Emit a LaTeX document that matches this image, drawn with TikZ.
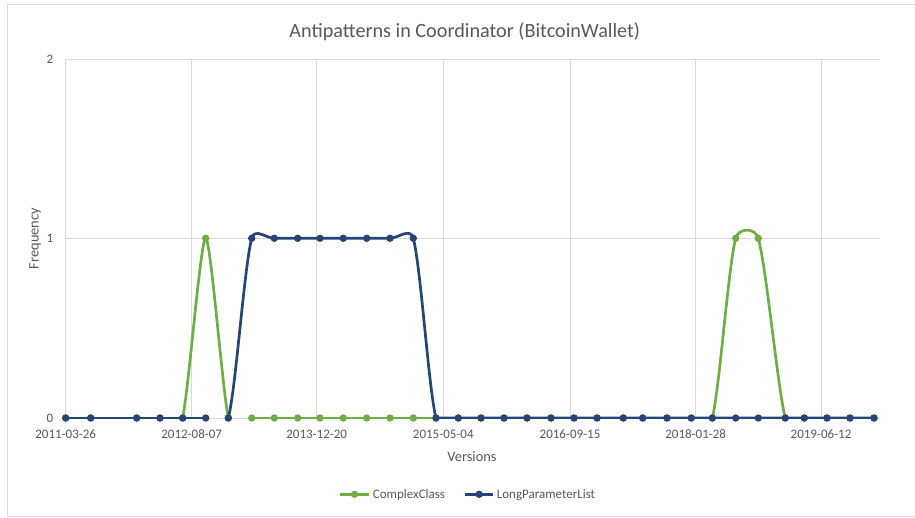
\documentclass[tikz,border=0pt]{standalone}
\usepackage{fontspec}
\usetikzlibrary{calc}
\setmainfont{Carlito}
\definecolor{ccgreen}{HTML}{70AD47}
\definecolor{lpnavy}{HTML}{264478}
\definecolor{gridgray}{HTML}{D9D9D9}
\definecolor{txtgray}{HTML}{595959}
\begin{document}
\begin{tikzpicture}[x=1pt,y=-1pt,
  gridline/.style={draw=gridgray,line width=1pt},
  ccline/.style={draw=ccgreen,line width=2.7pt,line join=round},
  lpline/.style={draw=lpnavy,line width=2.7pt,line join=round},
  ccmark/.style={fill=ccgreen},
  lpmark/.style={fill=lpnavy},
  ticklab/.style={text=txtgray,font=\fontsize{13}{15}\selectfont,inner sep=0pt},
  axtitle/.style={text=txtgray,font=\fontsize{14.4}{17}\selectfont,inner sep=0pt},
  legtext/.style={text=txtgray,font=\fontsize{13}{15}\selectfont,inner sep=0pt,anchor=base west}]
\useasboundingbox (0,0) rectangle (915,517);
\fill[white] (0,0) rectangle (915,517);
% chart border
\draw[draw=gridgray,line width=1pt] (920,4) -- (7,4) -- (7,516) -- (920,516);
% title
\node[text=txtgray,font=\fontsize{20.2}{24}\selectfont,inner sep=0pt,anchor=base] (title) at (464.8,37.9) {Antipatterns in Coordinator (BitcoinWallet)};
% grid
\foreach \gx in {65.7,191.7,316.7,443.3,570,695.7,821} \draw[gridline] (\gx,59) -- (\gx,418);
\draw[gridline] (65.7,59) -- (880,59);
\draw[gridline] (65.7,238.3) -- (880,238.3);
\draw[gridline] (65.7,418) -- (880,418);
% y tick labels
\node[ticklab,anchor=base east] (y0) at (53.3,422.3) {0};
\node[ticklab,anchor=base east] (y1) at (53.3,242.6) {1};
\node[ticklab,anchor=base east] (y2) at (53.3,63.3) {2};
% x tick labels
\foreach \gx/\lab [count=\k] in {65.7/2011-03-26,191.7/2012-08-07,316.7/2013-12-20,443.3/2015-05-04,570/2016-09-15,695.7/2018-01-28,821/2019-06-12}
  \node[ticklab,anchor=base] (xt\k) at (\gx,438.4) {\lab};
% axis titles
\node[axtitle,anchor=base] (xtitle) at (472,461) {Versions};
\node[axtitle,anchor=base,rotate=90] (ytitle) at (38.6,238.5) {Frequency};
% data points
\foreach \x/\cv/\lv [count=\i from 0] in {65.7/0/0,90.7/0/0,136.7/0/0,160/0/0,182.7/0/0,205.7/1/0,228.3/0/0,251.7/0/1,274.3/0/1,297.7/0/1,320/0/1,343.3/0/1,366.7/0/1,390/0/1,413.3/0/1,436/0/0,458.3/0/0,481/0/0,504/0/0,527/0/0,551/0/0,574/0/0,597/0/0,623.3/0/0,642.7/0/0,667/0/0,691.3/0/0,712.3/0/0,735.7/1/0,758.3/1/0,785.3/0/0,804.3/0/0,827/0/0,850/0/0,874/0/0}{
  \coordinate (c\i) at (\x,{418-179.7*\cv});
  \coordinate (l\i) at (\x,{418-179.7*\lv});
}
% series lines, clipped to the plot area
\begin{scope}
\clip (60,40) rectangle (885,418.4);
\draw[ccline] (c0) -- (c3);
\draw[ccline] (c4) .. controls +(6.5,-34) and +(-5,0) .. (c5)
              .. controls +(5,0) and +(-6.5,-34) .. (c6);
\draw[ccline] (c7) -- (c26);
\draw[ccline] (c27) .. controls +(7.4,-30) and +(-7.7,30) .. (c28)
              .. controls +(2.8,-10.9) and +(-3.0,-10.9) .. (c29)
              .. controls +(8.3,30) and +(-7.7,-30) .. (c30);
\draw[ccline] (c31) -- (c34);
\end{scope}
\foreach \i in {0,...,34} \fill[ccmark] (c\i) circle[radius=3.7pt];
\begin{scope}
\clip (60,40) rectangle (885,418.4);
\draw[lpline] (l0) -- (l5);
\draw[lpline] (l6) .. controls +(7.7,-30) and +(-7.7,30) .. (l7)
              .. controls +(2.8,-10.9) and +(-7.7,0) .. (l8)
              -- (l13)
              .. controls +(7.7,0) and +(-2.9,-11.3) .. (l14)
              .. controls +(7.7,30) and +(-7.5,-30) .. (l15)
              -- (l34);
\end{scope}
\foreach \i in {0,...,34} \fill[lpmark] (l\i) circle[radius=3.7pt];
% legend
\coordinate (lgA) at (340,494.3);
\coordinate (lgB) at (369,494.3);
\coordinate (lgC) at (465,494.3);
\coordinate (lgD) at (493.3,494.3);
\draw[ccline] (lgA) -- (lgB);
\fill[ccmark] ($(lgA)!0.5!(lgB)$) circle[radius=3.7pt];
\node[legtext] (legcc) at (372.7,498.5) {ComplexClass};
\draw[lpline] (lgC) -- (lgD);
\fill[lpmark] ($(lgC)!0.5!(lgD)$) circle[radius=3.7pt];
\node[legtext] (leglp) at (496.7,498.5) {LongParameterList};
\end{tikzpicture}
\end{document}
